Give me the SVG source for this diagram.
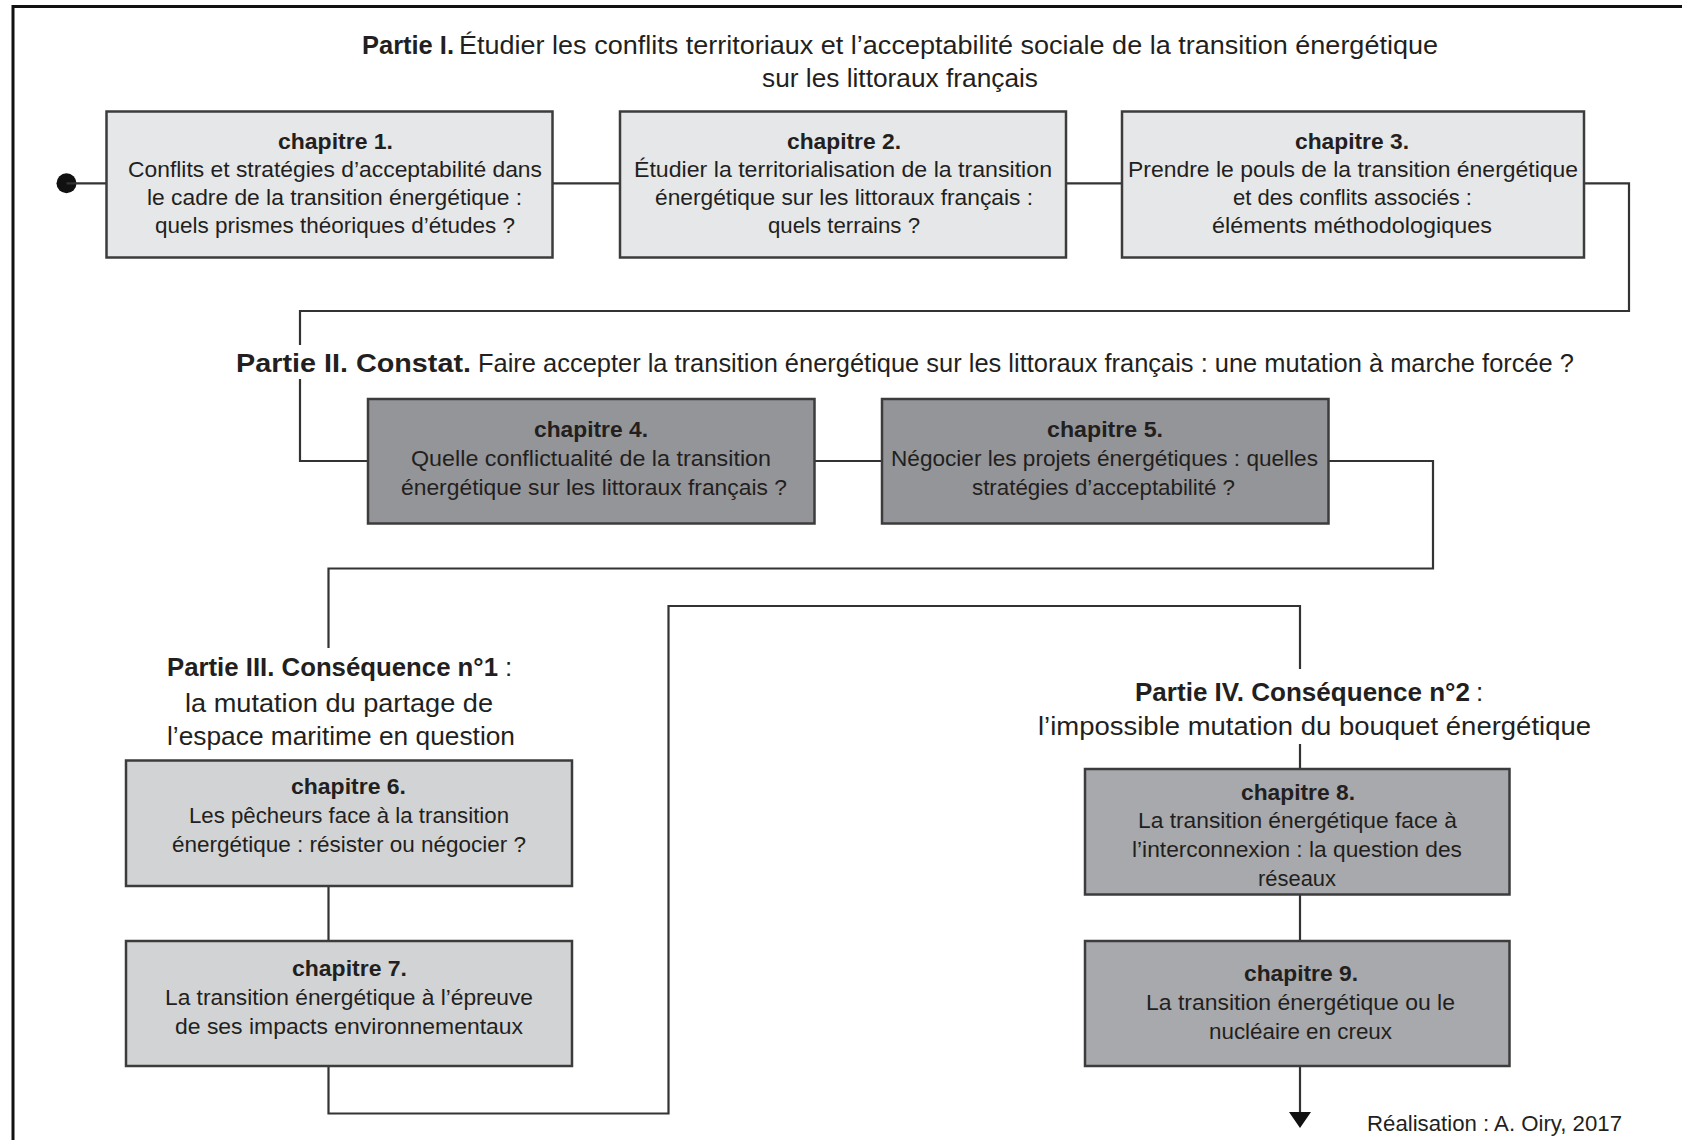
<svg xmlns="http://www.w3.org/2000/svg" width="1682" height="1140" viewBox="0 0 1682 1140">
<style>
.box{stroke:#3c3c3c;stroke-width:2.5}
.c1{fill:#e6e7e8}.c2{fill:#939598}.c3{fill:#d1d3d4}.c4{fill:#a7a9ac}
.t{font-family:"Liberation Sans",Arial,sans-serif;font-size:22px;fill:#231f20}
.b{font-weight:bold}
.ti{font-size:25px}
.tl{font-size:26px}
.wire{fill:none;stroke:#333;stroke-width:2.2}
</style>
<defs>
<marker id="arr" viewBox="0 -11 16 22" refX="0" refY="0" markerWidth="16" markerHeight="22" markerUnits="userSpaceOnUse" orient="auto">
<path d="M0,-11 L16,0 L0,11 z" fill="#111"/>
</marker>
</defs>
<rect width="1682" height="1140" fill="#fff"/>
<path d="M13,1145 V6.5 H1690" fill="none" stroke="#111" stroke-width="3"/>

<g id="connectors">
<circle cx="66.5" cy="183.3" r="10" fill="#111"/>
<path class="wire" d="M66.5,183.3 H106.5"/>
<path class="wire" d="M552.5,183.3 H620"/>
<path class="wire" d="M1066,183.3 H1122"/>
<path class="wire" d="M1584,183.3 H1629 V311 H300 V345"/>
<path class="wire" d="M300,379 V461 H368"/>
<path class="wire" d="M814.5,461 H882"/>
<path class="wire" d="M1328.5,461 H1433 V568.5 H328.5 V648"/>
<path class="wire" d="M328.5,886 V941"/>
<path class="wire" d="M328.5,1066 V1113.5 H668.5 V606 H1300 V669"/>
<path class="wire" d="M1300,744 V769"/>
<path class="wire" d="M1300,894.5 V941"/>
<path class="wire" d="M1300,1066 V1112" marker-end="url(#arr)"/>
</g>

<g id="partie1">
<text class="t ti b" x="362" y="54" textLength="92" lengthAdjust="spacingAndGlyphs">Partie I.</text>
<text class="t ti" x="459" y="54" textLength="979" lengthAdjust="spacingAndGlyphs">Étudier les conflits territoriaux et l’acceptabilité sociale de la transition énergétique</text>
<text class="t ti" x="762" y="87" textLength="276" lengthAdjust="spacingAndGlyphs">sur les littoraux français</text>
</g>

<g id="ch1">
<rect class="box c1" x="106.5" y="111.5" width="446" height="146"/>
<text class="t b" x="278" y="149" textLength="115" lengthAdjust="spacingAndGlyphs">chapitre 1.</text>
<text class="t" x="128" y="177" textLength="414" lengthAdjust="spacingAndGlyphs">Conflits et stratégies d’acceptabilité dans</text>
<text class="t" x="147" y="205" textLength="375" lengthAdjust="spacingAndGlyphs">le cadre de la transition énergétique :</text>
<text class="t" x="155" y="233" textLength="360" lengthAdjust="spacingAndGlyphs">quels prismes théoriques d’études ?</text>
</g>

<g id="ch2">
<rect class="box c1" x="620" y="111.5" width="446" height="146"/>
<text class="t b" x="787" y="149" textLength="114" lengthAdjust="spacingAndGlyphs">chapitre 2.</text>
<text class="t" x="634" y="177" textLength="418" lengthAdjust="spacingAndGlyphs">Étudier la territorialisation de la transition</text>
<text class="t" x="655" y="205" textLength="378" lengthAdjust="spacingAndGlyphs">énergétique sur les littoraux français :</text>
<text class="t" x="768" y="233" textLength="152" lengthAdjust="spacingAndGlyphs">quels terrains ?</text>
</g>

<g id="ch3">
<rect class="box c1" x="1122" y="111.5" width="462" height="146"/>
<text class="t b" x="1295" y="149" textLength="114" lengthAdjust="spacingAndGlyphs">chapitre 3.</text>
<text class="t" x="1128" y="177" textLength="450" lengthAdjust="spacingAndGlyphs">Prendre le pouls de la transition énergétique</text>
<text class="t" x="1233" y="205" textLength="239" lengthAdjust="spacingAndGlyphs">et des conflits associés :</text>
<text class="t" x="1212" y="233" textLength="280" lengthAdjust="spacingAndGlyphs">éléments méthodologiques</text>
</g>

<g id="partie2">
<text class="t ti b" x="236" y="372" textLength="235" lengthAdjust="spacingAndGlyphs">Partie II. Constat.</text>
<text class="t ti" x="478" y="372" textLength="1096" lengthAdjust="spacingAndGlyphs">Faire accepter la transition énergétique sur les littoraux français : une mutation à marche forcée ?</text>
</g>

<g id="ch4">
<rect class="box c2" x="368" y="399" width="446.5" height="124.5"/>
<text class="t b" x="534" y="437" textLength="114" lengthAdjust="spacingAndGlyphs">chapitre 4.</text>
<text class="t" x="411" y="466" textLength="360" lengthAdjust="spacingAndGlyphs">Quelle conflictualité de la transition</text>
<text class="t" x="401" y="495" textLength="386" lengthAdjust="spacingAndGlyphs">énergétique sur les littoraux français ?</text>
</g>

<g id="ch5">
<rect class="box c2" x="882" y="399" width="446.5" height="124.5"/>
<text class="t b" x="1047" y="437" textLength="116" lengthAdjust="spacingAndGlyphs">chapitre 5.</text>
<text class="t" x="891" y="466" textLength="427" lengthAdjust="spacingAndGlyphs">Négocier les projets énergétiques : quelles</text>
<text class="t" x="972" y="495" textLength="263" lengthAdjust="spacingAndGlyphs">stratégies d’acceptabilité ?</text>
</g>

<g id="partie3">
<text class="t tl b" x="167" y="676" textLength="331" lengthAdjust="spacingAndGlyphs">Partie III. Conséquence n°1</text>
<text class="t tl" x="505" y="676">:</text>
<text class="t tl" x="185" y="712" textLength="308" lengthAdjust="spacingAndGlyphs">la mutation du partage de</text>
<text class="t tl" x="167" y="745" textLength="348" lengthAdjust="spacingAndGlyphs">l’espace maritime en question</text>
</g>

<g id="ch6">
<rect class="box c3" x="126" y="760.5" width="446" height="125.5"/>
<text class="t b" x="291" y="794" textLength="115" lengthAdjust="spacingAndGlyphs">chapitre 6.</text>
<text class="t" x="189" y="823" textLength="320" lengthAdjust="spacingAndGlyphs">Les pêcheurs face à la transition</text>
<text class="t" x="172" y="852" textLength="354" lengthAdjust="spacingAndGlyphs">énergétique : résister ou négocier ?</text>
</g>

<g id="ch7">
<rect class="box c3" x="126" y="941" width="446" height="125"/>
<text class="t b" x="292" y="976" textLength="115" lengthAdjust="spacingAndGlyphs">chapitre 7.</text>
<text class="t" x="165" y="1005" textLength="368" lengthAdjust="spacingAndGlyphs">La transition énergétique à l’épreuve</text>
<text class="t" x="175" y="1034" textLength="348" lengthAdjust="spacingAndGlyphs">de ses impacts environnementaux</text>
</g>

<g id="partie4">
<text class="t tl b" x="1135" y="701" textLength="335" lengthAdjust="spacingAndGlyphs">Partie IV. Conséquence n°2</text>
<text class="t tl" x="1476" y="701">:</text>
<text class="t tl" x="1038" y="735" textLength="553" lengthAdjust="spacingAndGlyphs">l’impossible mutation du bouquet énergétique</text>
</g>

<g id="ch8">
<rect class="box c4" x="1085" y="769" width="424.5" height="125.5"/>
<text class="t b" x="1241" y="800" textLength="114" lengthAdjust="spacingAndGlyphs">chapitre 8.</text>
<text class="t" x="1138" y="828" textLength="319" lengthAdjust="spacingAndGlyphs">La transition énergétique face à</text>
<text class="t" x="1132" y="857" textLength="330" lengthAdjust="spacingAndGlyphs">l’interconnexion : la question des</text>
<text class="t" x="1258" y="886" textLength="78" lengthAdjust="spacingAndGlyphs">réseaux</text>
</g>

<g id="ch9">
<rect class="box c4" x="1085" y="941" width="424.5" height="125"/>
<text class="t b" x="1244" y="981" textLength="114" lengthAdjust="spacingAndGlyphs">chapitre 9.</text>
<text class="t" x="1146" y="1010" textLength="309" lengthAdjust="spacingAndGlyphs">La transition énergétique ou le</text>
<text class="t" x="1209" y="1039" textLength="183" lengthAdjust="spacingAndGlyphs">nucléaire en creux</text>
</g>

<g id="credit">
<text class="t" x="1367" y="1131" textLength="255" lengthAdjust="spacingAndGlyphs">Réalisation : A. Oiry, 2017</text>
</g>
</svg>
